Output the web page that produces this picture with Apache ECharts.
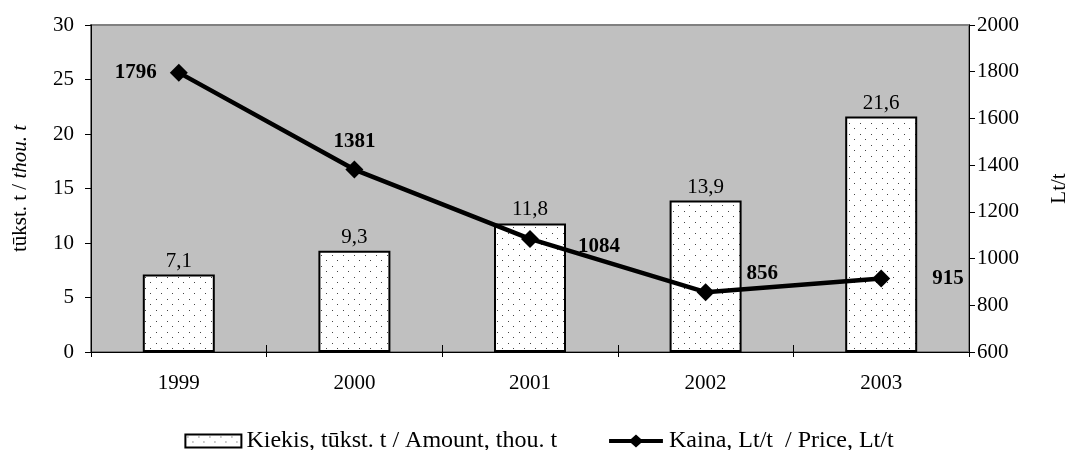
<!DOCTYPE html>
<html>
<head>
<meta charset="utf-8">
<script src="https://cdn.jsdelivr.net/npm/echarts@6/dist/echarts.min.js"></script>
<style>
  html, body { margin: 0; padding: 0; background: #ffffff; }
  #chart { width: 1078px; height: 450px; }
</style>
</head>
<body>
<div id="chart"></div>
<script>
// Years on the category axis
const years = ['1999', '2000', '2001', '2002', '2003'];
// Amount, thousand tonnes
const amount = [7.1, 9.3, 11.8, 13.9, 21.6];
// Price, Lt per tonne
const price = [1796, 1381, 1084, 856, 915];

const seriesNames = ['Kiekis, tūkst. t / Amount, thou. t', 'Kaina, Lt/t  / Price, Lt/t'];

const FONT = '"Liberation Serif", "DejaVu Serif", serif';
const FS = 21;      // axis and data labels
const FS_LEG = 24;  // legend text

// Dotted fill for the bars
function dotPattern() {
  const c = document.createElement('canvas');
  c.width = 11; c.height = 11;
  const g = c.getContext('2d');
  g.fillStyle = '#ffffff';
  g.fillRect(0, 0, 11, 11);
  g.fillStyle = '#444444';
  g.fillRect(2, 2, 1, 1);
  g.fillRect(7, 7, 1, 1);
  return c;
}
const fill = { image: dotPattern(), repeat: 'repeat' };

// Legend key for the price line: thick stroke with a diamond in the middle
const lineKeyIcon = 'path://M0,4.75 L23.6,4.75 L29,0 L34.4,4.75 L58,4.75 L58,9.25 L34.4,9.25 L29,14 L23.6,9.25 L0,9.25 Z';

// Per-point label placement for the price line
const priceLabelPos = [
  { position: 'left', distance: 13, offset: [0, 0] },
  { position: 'top', distance: 9, offset: [0, 0] },
  { position: 'right', distance: 39, offset: [0, 8] },
  { position: 'right', distance: 32, offset: [0, -19] },
  { position: 'right', distance: 42, offset: [0, 0] }
];

const chart = echarts.init(document.getElementById('chart'), null, { renderer: 'canvas' });

chart.setOption({
  animation: false,
  textStyle: { fontFamily: FONT, color: '#000' },
  grid: {
    left: 91, right: 107, top: 25, bottom: 98,
    show: true, backgroundColor: '#c0c0c0', borderColor: '#808080', borderWidth: 2
  },
  legend: {
    top: 424,
    left: 'center',
    itemGap: 52,
    itemWidth: 56,
    itemHeight: 13,
    textStyle: { fontFamily: FONT, fontSize: FS_LEG, color: '#000' },
    data: [
      { name: seriesNames[0], icon: 'rect', itemStyle: { color: fill, borderColor: '#000', borderWidth: 2 } },
      { name: seriesNames[1], icon: lineKeyIcon, itemStyle: { color: '#000', borderWidth: 0 } }
    ]
  },
  xAxis: [
    {
      type: 'category',
      data: years,
      axisLine: { lineStyle: { color: '#000', width: 1 } },
      axisTick: { show: true, length: 5, lineStyle: { color: '#000' } },
      axisLabel: { fontFamily: FONT, fontSize: FS, color: '#000', margin: 21 },
      splitLine: { show: false }
    },
    {
      // inner half of the category ticks
      type: 'category',
      data: years,
      position: 'bottom',
      axisLine: { show: false },
      axisTick: { show: true, inside: true, length: 7, lineStyle: { color: '#000' } },
      axisLabel: { show: false },
      splitLine: { show: false }
    }
  ],
  yAxis: [
    {
      type: 'value',
      min: 0, max: 30, interval: 5,
      name: '{n|tūkst. t / }{i|thou. t}',
      nameLocation: 'middle',
      nameGap: 60,
      nameRotate: 90,
      nameTextStyle: {
        rich: {
          n: { fontFamily: FONT, fontSize: FS, color: '#000' },
          i: { fontFamily: FONT, fontSize: FS, color: '#000', fontStyle: 'italic' }
        }
      },
      axisLine: { show: true, lineStyle: { color: '#000', width: 1 } },
      axisTick: { show: true, length: 6, lineStyle: { color: '#000' } },
      axisLabel: { fontFamily: FONT, fontSize: FS, color: '#000', margin: 17 },
      splitLine: { show: false }
    },
    {
      type: 'value',
      min: 600, max: 2000, interval: 200,
      name: 'Lt/t',
      nameLocation: 'middle',
      nameGap: 80,
      nameRotate: 90,
      nameTextStyle: { fontFamily: FONT, fontSize: FS, color: '#000' },
      axisLine: { show: true, lineStyle: { color: '#000', width: 1 } },
      axisTick: { show: true, length: 6, lineStyle: { color: '#000' } },
      axisLabel: { fontFamily: FONT, fontSize: FS, color: '#000', margin: 8, formatter: v => String(v) },
      splitLine: { show: false }
    }
  ],
  series: [
    {
      name: seriesNames[0],
      type: 'bar',
      yAxisIndex: 0,
      barWidth: 72,
      data: amount,
      itemStyle: { color: fill, borderColor: '#000', borderWidth: 2 },
      label: {
        show: true,
        position: 'top',
        distance: 3,
        fontFamily: FONT,
        fontSize: FS,
        color: '#000',
        formatter: p => String(p.value).replace('.', ',')
      },
      z: 2
    },
    {
      name: seriesNames[1],
      type: 'line',
      yAxisIndex: 1,
      data: price.map((v, i) => ({
        value: v,
        label: Object.assign({}, priceLabelPos[i])
      })),
      symbol: 'diamond',
      symbolSize: 18,
      lineStyle: { color: '#000', width: 4.5 },
      itemStyle: { color: '#000' },
      label: {
        show: true,
        fontFamily: FONT,
        fontSize: FS,
        fontWeight: 'bold',
        color: '#000'
      },
      z: 3
    }
  ]
});
</script>
</body>
</html>
